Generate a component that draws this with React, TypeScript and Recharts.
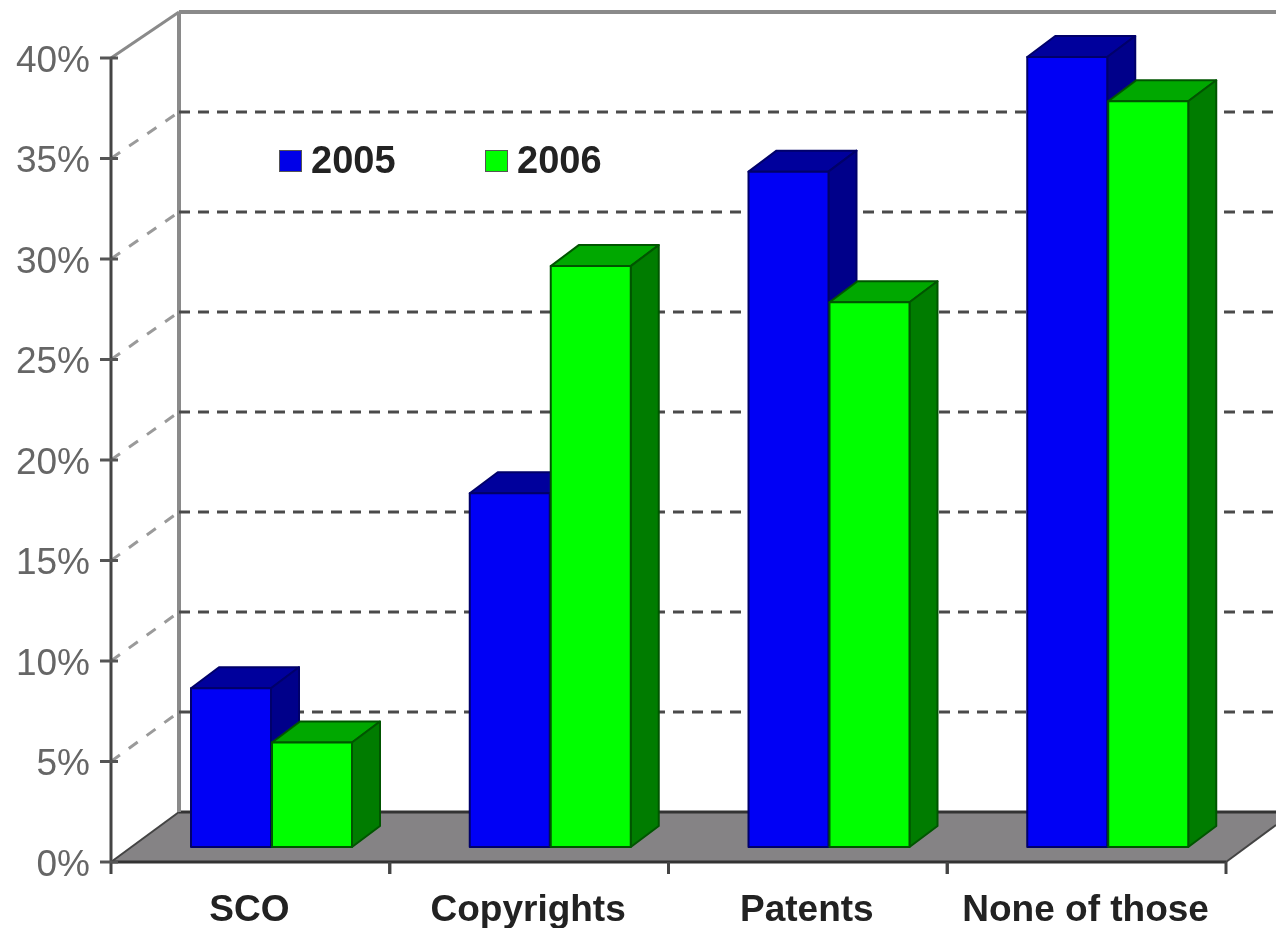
import { Bar, BarChart, CartesianGrid, Legend, XAxis, YAxis } from "recharts";

const categories = ["SCO", "Copyrights", "Patents", "None of those"];
const share2005 = [7.9, 17.6, 33.6, 39.3];
const share2006 = [5.2, 28.9, 27.1, 37.1];
const yTicks = [0, 5, 10, 15, 20, 25, 30, 35, 40];

const rows = categories.map((name, i) => ({
  name,
  y2005: share2005[i],
  y2006: share2006[i],
}));

const WIDTH = 1276;
const HEIGHT = 928;
const MARGIN = { top: 58, right: 50, bottom: 0, left: 0 };
const FONT = "'Liberation Sans', Arial, sans-serif";

// fake 3D: how far the back wall sits from the front plane
const WALL_DX = 68;
const FLOOR_DY = 50;
const TOP_DY = 46;
// bars stand in the middle of the floor and have their own depth
const BAR_SHIFT_X = 21;
const BAR_SHIFT_Y = -15;
const BAR_DX = 28;
const BAR_DY = -21;

const BLUE = { front: "#0000f5", top: "#00009c", side: "#00008a", edge: "#00006a" };
const GREEN = { front: "#00ff00", top: "#00a800", side: "#007c00", edge: "#005500" };

function Bar3D(props: any) {
  const { x, y, width, height, colors } = props;
  const left = x + BAR_SHIFT_X;
  const right = left + width;
  const top = y + BAR_SHIFT_Y;
  const bottom = top + height;
  return (
    <g stroke={colors.edge} strokeWidth={2} strokeLinejoin="round">
      <polygon
        fill={colors.top}
        points={`${left},${top} ${left + BAR_DX},${top + BAR_DY} ${right + BAR_DX},${top + BAR_DY} ${right},${top}`}
      />
      <polygon
        fill={colors.side}
        points={`${right},${top} ${right + BAR_DX},${top + BAR_DY} ${right + BAR_DX},${bottom + BAR_DY} ${right},${bottom}`}
      />
      <rect x={left} y={top} width={width} height={height} fill={colors.front} />
    </g>
  );
}

function WallLine(props: any) {
  const { x1, x2, y1, index } = props;
  const frontTop = MARGIN.top;
  const frontBottom = HEIGHT - MARGIN.bottom - 66;
  const backX = x1 + WALL_DX;
  const backTop = frontTop - TOP_DY;
  const backBottom = frontBottom - FLOOR_DY;
  const ratio = (backBottom - backTop) / (frontBottom - frontTop);
  const backY = backBottom - (frontBottom - y1) * ratio;

  if (Math.abs(y1 - frontBottom) < 1) {
    return (
      <g key={index}>
        <polygon
          fill="#858385"
          points={`${x1},${frontBottom} ${x2},${frontBottom} ${WIDTH},${frontBottom - 37} ${WIDTH},${backBottom} ${backX},${backBottom}`}
        />
        <line x1={backX} y1={backBottom} x2={WIDTH} y2={backBottom} stroke="#333" strokeWidth={3} />
        <line x1={x1} y1={frontBottom} x2={backX} y2={backBottom} stroke="#444" strokeWidth={2} />
        <line x1={x2} y1={frontBottom} x2={WIDTH} y2={frontBottom - 37} stroke="#444" strokeWidth={2} />
        <line x1={backX} y1={backTop} x2={backX} y2={backBottom} stroke="#8a8a8a" strokeWidth={4} />
      </g>
    );
  }
  if (Math.abs(y1 - frontTop) < 1) {
    return (
      <g key={index} stroke="#8a8a8a" strokeWidth={4}>
        <line x1={x1} y1={y1} x2={backX} y2={backY} strokeWidth={3} />
        <line x1={backX} y1={backY} x2={WIDTH} y2={backY} />
      </g>
    );
  }
  return (
    <g key={index}>
      <line x1={x1} y1={y1} x2={backX} y2={backY} stroke="#9a9a9a" strokeWidth={3} strokeDasharray="11 11" />
      <line x1={backX} y1={backY} x2={WIDTH} y2={backY} stroke="#4a4a4a" strokeWidth={3} strokeDasharray="11 8" />
    </g>
  );
}

function YTick(props: any) {
  const { x, y, payload } = props;
  return (
    <g>
      <line x1={x - 11} y1={y} x2={x + 7} y2={y} stroke="#555" strokeWidth={3} />
      <text
        x={x - 21}
        y={y + 1}
        textAnchor="end"
        dominantBaseline="central"
        fontFamily={FONT}
        fontSize={37}
        fill="#666"
      >
        {payload.value}%
      </text>
    </g>
  );
}

function XTick(props: any) {
  const { x, y, payload } = props;
  const half = 278.75 / 2;
  return (
    <g>
      <line x1={x - half} y1={y} x2={x - half} y2={y + 12} stroke="#444" strokeWidth={3} />
      <line x1={x + half} y1={y} x2={x + half} y2={y + 12} stroke="#444" strokeWidth={3} />
      <text x={x - 1} y={y + 46} textAnchor="middle" dominantBaseline="central" fontFamily={FONT} fontSize={37} fontWeight="bold" fill="#222">
        {payload.value}
      </text>
    </g>
  );
}

function LegendContent({ payload }: any) {
  return (
    <div style={{ display: "flex", fontFamily: FONT, fontSize: 38, fontWeight: "bold", color: "#222" }}>
      {(payload ?? []).map((item: any) => (
        <div key={item.value} style={{ display: "flex", alignItems: "center", width: 206 }}>
          <span
            style={{
              display: "inline-block",
              width: 23,
              height: 22,
              marginRight: 9,
              background: item.color,
              border: "1px solid #555",
              boxSizing: "border-box",
            }}
          />
          {item.value}
        </div>
      ))}
    </div>
  );
}

export default function App() {
  return (
    <div
      style={{
        position: "absolute",
        left: 0,
        top: 0,
        width: WIDTH,
        height: HEIGHT,
        overflow: "hidden",
        background: "#fff",
      }}
    >
      <div style={{ filter: "blur(0.7px)" }}>
        <BarChart width={WIDTH} height={HEIGHT} data={rows} margin={MARGIN} barSize={80} barGap={1}>
          <CartesianGrid vertical={false} horizontal={(p: any) => <WallLine {...p} />} />
          <XAxis
            dataKey="name"
            height={66}
            interval={0}
            tick={(p: any) => <XTick {...p} />}
            tickLine={false}
            tickSize={0}
            tickMargin={0}
            axisLine={{ stroke: "#333", strokeWidth: 3 }}
          />
          <YAxis
            width={111}
            domain={[0, 40]}
            ticks={yTicks}
            interval={0}
            tick={(p: any) => <YTick {...p} />}
            tickLine={false}
            tickSize={0}
            tickMargin={0}
            axisLine={{ stroke: "#444", strokeWidth: 3 }}
          />
          <Legend
            layout="vertical"
            align="center"
            verticalAlign="middle"
            content={<LegendContent />}
            wrapperStyle={{ left: 279, top: 139, width: 420, height: 44 }}
          />
          <Bar
            dataKey="y2005"
            name="2005"
            fill="#0000e8"
            isAnimationActive={false}
            shape={(p: any) => <Bar3D {...p} colors={BLUE} />}
          />
          <Bar
            dataKey="y2006"
            name="2006"
            fill="#00ff00"
            isAnimationActive={false}
            shape={(p: any) => <Bar3D {...p} colors={GREEN} />}
          />
        </BarChart>
      </div>
    </div>
  );
}
